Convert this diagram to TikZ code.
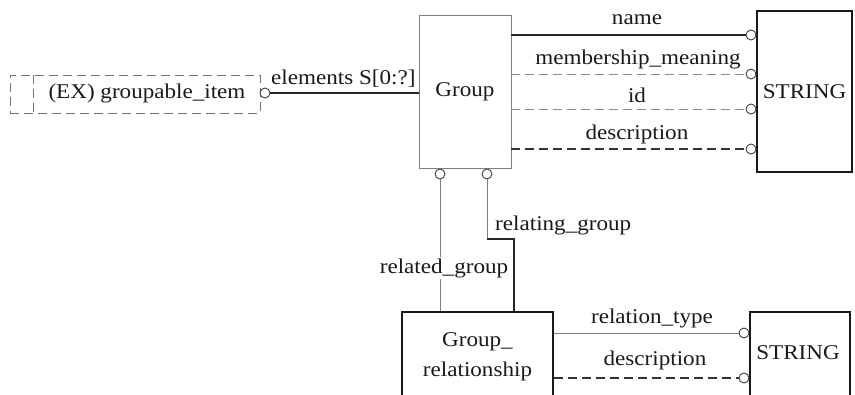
\documentclass[tikz,border=0pt]{standalone}
\usepackage{fontspec}
\setmainfont[FakeStretch=1.1]{Liberation Serif}
\begin{document}
\begin{tikzpicture}[x=1pt,y=-1pt,
  every node/.style={font=\fontsize{21}{30}\selectfont, text=black!90},
  lbl/.style={inner sep=1pt},
  boxg/.style={draw=black!50, line width=0.9pt, inner sep=0pt},
  boxk/.style={draw=black!90, line width=1.3pt, inner sep=0pt},
  boxd/.style={draw=black!55, line width=0.9pt, dash pattern=on 9pt off 5pt, inner sep=0pt},
  solidk/.style={draw=black!85, line width=1.1pt},
  solidg/.style={draw=black!50, line width=0.9pt},
  dashg/.style={draw=black!45, line width=0.9pt, dash pattern=on 9pt off 5pt},
  dashk/.style={draw=black!80, line width=1.1pt, dash pattern=on 9pt off 5pt},
  ring/.style={circle, draw=black!75, line width=0.9pt, fill=white, minimum size=10pt, inner sep=0pt}]
\useasboundingbox (0,0) rectangle (855,394);
\clip (0,0) rectangle (855,394);
% boxes
\node[boxd, minimum width=250pt, minimum height=38pt] (gi) at (135,94) {};
\draw[boxd] (33,75) -- (33,113);
\node at (147,93) {(EX) groupable\_item};
\node[boxg, minimum width=92pt, minimum height=153pt] (grp) at (465,91.5) {Group};
\node[boxk, minimum width=95pt, minimum height=161pt] (s1) at (804.5,91.5) {STRING};
\node[boxk, minimum width=151pt, minimum height=90pt, align=center] (gr) at (477.5,357) {Group\_\\relationship};
\node[boxk, minimum width=100pt, minimum height=110pt] (s2) at (800,367) {};
\node at (798,353) {STRING};
% elements
\node[ring] (ce) at (265,93) {};
\draw[solidk] (ce.east) -- (grp.west |- ce);
\node[lbl, anchor=west] (le) at (270,79) {elements S[0:?]};
% attributes to STRING
\node[ring] (c1) at (751,35) {};
\node[ring] (c2) at (751,74) {};
\node[ring] (c3) at (751,109) {};
\node[ring] (c4) at (751,149) {};
\draw[solidk] (grp.east |- c1) -- (c1.west);
\draw[dashg] (grp.east |- c2) -- (c2.west);
\draw[dashg] (grp.east |- c3) -- (c3.west);
\draw[dashk] (grp.east |- c4) -- (c4.west);
\node[lbl] at (637,20) {name};
\node[lbl] at (638,59) {membership\_meaning};
\node[lbl] at (637,95) {id};
\node[lbl] at (637,134) {description};
% relationships
\node[ring] (cr1) at (440,174) {};
\node[ring] (cr2) at (487,174) {};
\draw[solidg] (cr1.south) -- (gr.north -| cr1);
\coordinate (bend) at (487,239);
\draw[solidg] (cr2.south) -- (bend);
\draw[solidk] (bend) -- (514,239) -- (gr.north -| 514,0);
\node[lbl, fill=white] at (444,268) {related\_group};
\node[lbl, anchor=west] at (494,225) {relating\_group};
% Group_relationship attributes
\node[ring] (c5) at (744,333) {};
\node[ring] (c6) at (744,378) {};
\draw[solidg] (gr.east |- c5) -- (c5.west);
\draw[dashk] (gr.east |- c6) -- (c6.west);
\node[lbl] at (652,318) {relation\_type};
\node[lbl] at (655,360) {description};
\end{tikzpicture}
\end{document}
